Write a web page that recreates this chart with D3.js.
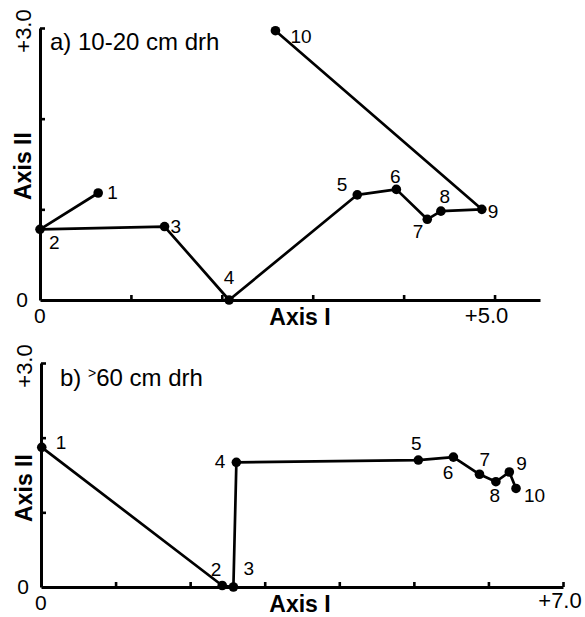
<!DOCTYPE html>
<html>
<head>
<meta charset="utf-8">
<script src="https://cdn.jsdelivr.net/npm/d3@7"></script>
<style>
  body { margin: 0; background: #fff; }
  svg { display: block; font-family: "Liberation Sans", Arial, sans-serif; }
</style>
</head>
<body>
<div id="chart"></div>
<script>
// panel a) 10-20 cm drh
const stepsA = ["1", "2", "3", "4", "5", "6", "7", "8", "9", "10"];
const axisIA = [0.64, 0.0, 1.37, 2.08, 3.49, 3.92, 4.26, 4.41, 4.86, 2.59];
const axisIIA = [1.18, 0.78, 0.81, 0.0, 1.16, 1.22, 0.89, 0.98, 1.00, 2.97];

// panel b) >60 cm drh
const stepsB = ["1", "2", "3", "4", "5", "6", "7", "8", "9", "10"];
const axisIB = [0.01, 2.43, 2.58, 2.62, 5.06, 5.53, 5.88, 6.10, 6.28, 6.37];
const axisIIB = [1.87, 0.02, 0.0, 1.67, 1.70, 1.74, 1.51, 1.41, 1.54, 1.32];

const ticksXA = [1, 2, 3, 4, 5];
const ticksXB = [1, 2, 3, 4, 5, 6, 7];
const ticksY = [1, 2, 3];

const width = 585, height = 617;

const svg = d3.select("#chart").append("svg")
    .attr("width", width)
    .attr("height", height);

// label placement for each step (anchor, dx, dy)
const labelPosA = [
  ["start", 9, 6], ["start", 9, 20], ["start", 6, 6], ["middle", 0, -16], ["end", -10, -4],
  ["middle", -1, -6], ["end", -4, 19], ["middle", 4, -8], ["start", 6, 9], ["start", 15, 12]
];
const labelPosB = [
  ["start", 14, 2], ["end", -1, -10], ["start", 10, -12], ["end", -11, 6], ["middle", -2, -10],
  ["end", 0, 22], ["start", 0, -8], ["middle", -1, 20], ["start", 7, -2], ["start", 8, 14]
];

function drawPanel(cfg){

    const x = d3.scaleLinear().domain(cfg.xDomain).range([cfg.left, cfg.right]);
    const y = d3.scaleLinear().domain([0, 3]).range([cfg.bottom, cfg.top]);

    const g = svg.append("g");

    // axes, ticks pointing inward
    const xAxis = g.append("g")
        .attr("transform", `translate(0,${cfg.bottom})`)
        .call(d3.axisBottom(x).tickValues(cfg.xTicks).tickSize(-5).tickSizeOuter(0).tickFormat(""));
    const yAxis = g.append("g")
        .attr("transform", `translate(${cfg.left},0)`)
        .call(d3.axisLeft(y).tickValues(ticksY).tickSize(-5).tickSizeOuter(0).tickFormat(""));

    [xAxis, yAxis].forEach(a => {
        a.select(".domain").attr("stroke", "#000").attr("stroke-width", 3);
        a.selectAll(".tick line").attr("stroke", "#000").attr("stroke-width", 2.6);
    });

    // trajectory
    const pts = cfg.xs.map((v, i) => ({x: v, y: cfg.ys[i], step: cfg.steps[i]}));

    const line = d3.line().x(d => x(d.x)).y(d => y(d.y));

    g.append("path")
        .datum(pts)
        .attr("fill", "none")
        .attr("stroke", "#000")
        .attr("stroke-width", 2.7)
        .attr("stroke-linejoin", "round")
        .attr("d", line);

    g.selectAll("circle")
        .data(pts)
        .enter()
        .append("circle")
        .attr("cx", d => x(d.x))
        .attr("cy", d => y(d.y))
        .attr("r", 4.8)
        .attr("fill", "#000");

    g.selectAll(".step")
        .data(pts)
        .enter()
        .append("text")
        .attr("class", "step")
        .attr("x", (d, i) => x(d.x) + cfg.labelPos[i][1])
        .attr("y", (d, i) => y(d.y) + cfg.labelPos[i][2])
        .attr("text-anchor", (d, i) => cfg.labelPos[i][0])
        .style("font-size", "19px")
        .text(d => d.step);

    // axis texts
    g.append("text")
        .attr("x", 300).attr("y", cfg.bottom + cfg.axisLabelDy)
        .attr("text-anchor", "middle")
        .style("font-size", "23px").style("font-weight", "bold")
        .text("Axis I");

    g.append("text")
        .attr("transform", `translate(${cfg.left - 9},${cfg.axis2Y}) rotate(-90)`)
        .attr("text-anchor", "middle")
        .style("font-size", "23px").style("font-weight", "bold")
        .text("Axis II");

    g.append("text")
        .attr("transform", `translate(${cfg.left - 9},${y(3) + 3}) rotate(-90)`)
        .attr("text-anchor", "middle")
        .style("font-size", "22px")
        .text("+3.0");

    g.append("text")
        .attr("x", cfg.left - 12).attr("y", cfg.bottom + 7)
        .attr("text-anchor", "end")
        .style("font-size", "21px")
        .text("0");

    g.append("text")
        .attr("x", x(0) - 6).attr("y", cfg.bottom + 23)
        .attr("text-anchor", "start")
        .style("font-size", "21px")
        .text("0");

    g.append("text")
        .attr("x", x(cfg.xDomain[1] === 7 ? 7 : 5) + cfg.endDx)
        .attr("y", cfg.bottom + cfg.endDy)
        .attr("text-anchor", "middle")
        .style("font-size", "22px")
        .text(cfg.endLabel);

    // panel title
    const title = g.append("text")
        .attr("x", cfg.titleX).attr("y", cfg.titleY)
        .style("font-size", "24px");
    title.append("tspan").text(cfg.titlePre);
    if(cfg.titleSup){
        title.append("tspan").attr("dy", -8).style("font-size", "14px").text(cfg.titleSup);
        title.append("tspan").attr("dy", 8).text(cfg.titlePost);
    }
}

drawPanel({
    xs: axisIA, ys: axisIIA, steps: stepsA, labelPos: labelPosA,
    xDomain: [0, 5.5], xTicks: ticksXA,
    left: 40, right: 540, top: 28, bottom: 300,
    axisLabelDy: 25, axis2Y: 166,
    endLabel: "+5.0", endDx: -8, endDy: 23,
    titleX: 50, titleY: 50, titlePre: "a) 10-20 cm drh"
});

drawPanel({
    xs: axisIB, ys: axisIIB, steps: stepsB, labelPos: labelPosB,
    xDomain: [0, 7], xTicks: ticksXB,
    left: 41, right: 563, top: 363, bottom: 587,
    axisLabelDy: 25, axis2Y: 488,
    endLabel: "+7.0", endDx: -3, endDy: 21,
    titleX: 60, titleY: 386, titlePre: "b) ", titleSup: ">", titlePost: "60 cm drh"
});
</script>
</body>
</html>
